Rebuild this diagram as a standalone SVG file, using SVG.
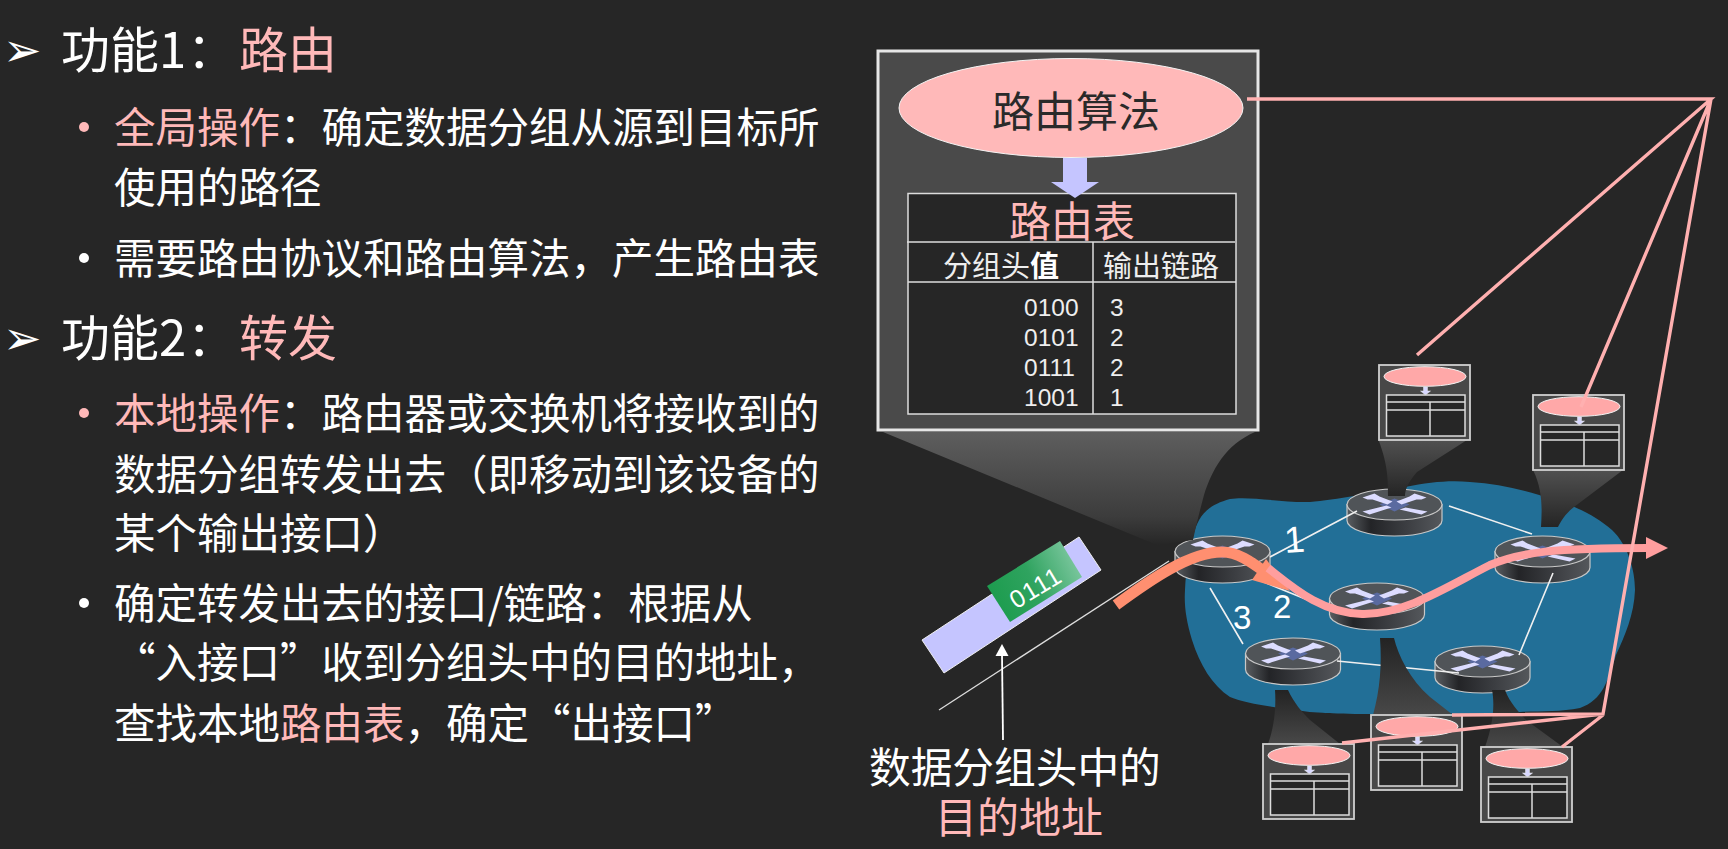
<svg xmlns="http://www.w3.org/2000/svg" xmlns:xlink="http://www.w3.org/1999/xlink" width="1728" height="849" viewBox="0 0 1728 849">
<style>
text{font-family:"Noto Sans CJK SC","Noto Sans",sans-serif;fill:#fff}
.h{font-size:49px}.b{font-size:41.500px}.p{fill:#ffb9b9}
.m{font-family:"DejaVu Sans",sans-serif;font-size:46px}
.t{font-size:42px}.n{font-family:"Liberation Sans",Arial,sans-serif;font-size:24.500px;fill:#eee}
.c{font-size:29px;fill:#eee}.l{font-family:"Liberation Sans",Arial,sans-serif;font-size:33px}
.link{stroke:#f0f0f0;stroke-width:1.600;fill:none}
.pk{stroke:#ffb0b0;stroke-width:3.400;fill:none}
</style>
<defs>
<linearGradient id="body" x1="0" x2="1" y1="0" y2="0"><stop offset="0" stop-color="#5a5e62"/><stop offset=".25" stop-color="#232427"/><stop offset=".6" stop-color="#3a3c40"/><stop offset="1" stop-color="#55585c"/></linearGradient>
<linearGradient id="fd" x1="0" x2="0" y1="0" y2="1"><stop offset="0" stop-color="#505050"/><stop offset="1" stop-color="#252525"/></linearGradient>
<linearGradient id="fu" x1="0" x2="0" y1="0" y2="1"><stop offset="0" stop-color="#232323"/><stop offset="1" stop-color="#484848"/></linearGradient>
<linearGradient id="fm" x1="0" x2="0" y1="0" y2="1"><stop offset="0" stop-color="#5e5e5e"/><stop offset=".75" stop-color="#3c3c3c"/><stop offset="1" stop-color="#262626"/></linearGradient>
<linearGradient id="green" x1="0" x2="1" y1=".6" y2=".2"><stop offset="0" stop-color="#1c9c4e"/><stop offset=".45" stop-color="#2fa35f"/><stop offset="1" stop-color="#85cba6"/></linearGradient>
<g id="router">
<path d="M-47.500 0V16A47.500 15.500 0 0 0 47.500 16V0Z" fill="url(#body)" stroke="#c8c8c8" stroke-width="1.200"/>
<ellipse rx="47.500" ry="15.500" fill="#505458" stroke="#c8c8c8" stroke-width="1.200"/>
<path d="M0-6 15 0 0 7-15 0Z" fill="#5a6aa0"/>
<path d="M-32-7-20-11-15-8-2-3-7 0-22-5-27-5ZM32-7 20-11 15-8 2-3 7 0 22-5 27-5ZM-32 7-8 1-3 3-25 10ZM33 7 11 3 5 5 27 10Z" fill="#dcdcff"/>
</g>
<g id="mini">
<rect width="91" height="75" fill="#484848" stroke="#d0d0d0" stroke-width="1.800"/>
<ellipse cx="46" cy="11.500" rx="41" ry="9.800" fill="#ffa8a8" stroke="#f2f2f2" stroke-width="1"/>
<path d="M44.500 22h4v4h3l-5 4-5-4h3z" fill="#d8d8ff" stroke="#eee" stroke-width=".5"/>
<rect x="7.500" y="30" width="78.500" height="41" fill="#262626" stroke="#ddd" stroke-width="1.500"/>
<path d="M7.500 37H86M7.500 45H86M51 37V71" stroke="#ddd" stroke-width="1.500" fill="none"/>
</g>
</defs>
<rect width="1728" height="849" fill="#262626"/>

<g id="text-panel">
<text class="m" x="3" y="66">➢</text>
<text class="h" x="61" y="68">功能1<tspan x="187">：</tspan><tspan x="239" class="p">路由</tspan></text>
<circle cx="84" cy="127" r="5" fill="#ffb9b9"/>
<text class="b" x="114" y="143"><tspan class="p">全局操作</tspan>：确定数据分组从源到目标所</text>
<text class="b" x="114" y="203">使用的路径</text>
<circle cx="84" cy="258" r="5" fill="#fff"/>
<text class="b" x="114" y="274">需要路由协议和路由算法，产生路由表</text>
<text class="m" x="3" y="354">➢</text>
<text class="h" x="61" y="356">功能2<tspan x="187">：</tspan><tspan x="239" class="p">转发</tspan></text>
<circle cx="84" cy="413" r="5" fill="#ffb9b9"/>
<text class="b" x="114" y="429"><tspan class="p">本地操作</tspan>：路由器或交换机将接收到的</text>
<text class="b" x="114" y="490">数据分组转发出去（即移动到该设备的</text>
<text class="b" x="114" y="549">某个输出接口）</text>
<circle cx="84" cy="603" r="5" fill="#fff"/>
<text class="b" x="114" y="619">确定转发出去的接口/链路：根据从</text>
<text class="b" x="114" y="678">“入接口”收到分组头中的目的地址，</text>
<text class="b" x="114" y="739">查找本地<tspan class="p">路由表</tspan>，确定“出接口”</text>
</g>

<path id="network-cloud" d="M1193 537C1198 515 1208 505 1230 499C1250 496 1285 503 1310 502C1335 500 1375 492 1405 487C1430 482 1450 480 1470 482C1500 484 1525 490 1555 500C1580 508 1597 517 1612 530C1628 545 1635 570 1635 590C1634 615 1625 635 1616 655C1608 680 1603 700 1580 708C1560 712 1540 711 1520 712C1490 714 1430 714 1373 714C1340 714 1310 713 1297 710C1270 707 1245 703 1230 697C1212 685 1200 665 1192 640C1186 620 1184 605 1185 590C1186 570 1188 555 1193 537Z" fill="#226f97"/>

<g id="r1"><use href="#router" x="1222.500" y="551.500"/></g>
<g id="r2"><use href="#router" x="1394.500" y="504.500"/></g>
<g id="r3"><use href="#router" x="1542.500" y="551.500"/></g>
<g id="r4"><use href="#router" x="1377" y="598.500"/></g>
<g id="r5"><use href="#router" x="1293" y="653.500"/></g>
<g id="r6"><use href="#router" x="1482.500" y="661.500"/></g>

<g id="connectors">
<path class="link" d="M1270 557 1357 511M1449 506 1532 534M1254 578 1325 607M1210 588 1243 644M1337 661 1459 673M1553 573 1519 655"/>
<path class="link" style="stroke-width:1.300;stroke:#ddd" d="M939 710 1169 561"/>
<path d="M1003 740 1002 655" stroke="#fff" stroke-width="1.800" fill="none"/>
<path d="M1002 644 995.500 656H1008.500Z" fill="#fff"/>
</g>

<g id="funnels">
<path d="M883 432H1255C1225 445 1212 470 1204 495C1200 510 1196 525 1193 540L1157 545Z" fill="url(#fm)"/>
<path d="M1378.500 440H1467L1417 472C1408 482 1405 490 1405 496H1388C1388 480 1388 465 1378.500 440Z" fill="url(#fd)"/>
<path d="M1533 470H1623L1574 507C1566 513 1561 521 1558 527H1541C1542 510 1543 490 1533 470Z" fill="url(#fd)"/>
<path d="M1380 638H1394C1398 655 1410 680 1430 697L1453 715H1373C1380 690 1382 665 1380 638Z" fill="url(#fu)"/>
<path d="M1275 690H1288C1294 703 1302 712 1310 720L1340 744H1268C1275 725 1276 705 1275 690Z" fill="url(#fu)"/>
<path d="M1492 690H1505C1510 703 1518 711 1526 720L1563 747H1485C1493 725 1495 705 1492 690Z" fill="url(#fu)"/>
</g>

<g id="routing-box">
<rect x="878" y="51" width="380" height="379" fill="#4a4a4a" stroke="#e6e6e6" stroke-width="3"/>
<ellipse cx="1071" cy="108" rx="172" ry="49.500" fill="#ffb9b9" stroke="#f4f4f4" stroke-width="1"/>
<text class="t" x="992" y="127" style="fill:#2a2a2a">路由算法</text>
<rect x="908" y="193.500" width="328" height="220.500" fill="#262626" stroke="#ddd" stroke-width="1.500"/>
<path d="M1063 158H1087V182H1099L1075 198 1051 182H1063Z" fill="#c5c5ff"/>
<text class="t" x="1009" y="237" style="fill:#ffb9b9;font-size:42px">路由表</text>
<path d="M907 242H1235M908 282H1236M1093 242V414" stroke="#ddd" stroke-width="1.500" fill="none"/>
<text class="c" x="943" y="277">分组头<tspan font-weight="700" fill="#fff">值</tspan></text>
<text class="c" x="1103" y="277">输出链路</text>
<text class="n" x="1024" y="316">0100</text><text class="n" x="1110" y="316">3</text>
<text class="n" x="1024" y="346">0101</text><text class="n" x="1110" y="346">2</text>
<text class="n" x="1024" y="376">0111</text><text class="n" x="1110" y="376">2</text>
<text class="n" x="1024" y="406">1001</text><text class="n" x="1110" y="406">1</text>
</g>

<g id="t1"><use href="#mini" x="1379" y="365"/></g>
<g id="t2"><use href="#mini" x="1533" y="395"/></g>
<g id="t3"><use href="#mini" x="1263" y="744"/></g>
<g id="t4"><use href="#mini" x="1371" y="715"/></g>
<g id="t5"><use href="#mini" x="1481" y="747"/></g>

<g id="packet">
<path d="M922 640 1079 537 1101 570 944 673Z" fill="#c5c5ff" stroke="#f0f0f0" stroke-width="1"/>
<path d="M987 586 1060 541 1082 577 1010 622Z" fill="url(#green)"/>
<text transform="translate(1040 595) rotate(-31)" text-anchor="middle" style="font-family:'Liberation Sans',Arial,sans-serif;font-size:25px;letter-spacing:1px">0111</text>
</g>

<g id="paths">
<path d="M1116 605C1150 580 1190 552 1222 552C1240 552 1255 565 1272 577" fill="none" stroke="#ff8f70" stroke-width="11"/>
<path d="M1266 559 1290 591 1252 580Z" fill="#ff8f70"/>
<path d="M1268 568C1290 585 1320 613 1362 614C1405 615 1450 585 1490 565C1520 552 1555 548 1648 548" fill="none" stroke="#ff9e9e" stroke-width="8"/>
<path d="M1646 537 1668 548 1646 559Z" fill="#ff9e9e"/>
</g>

<g id="labels">
<text class="l" transform="translate(1285 553) rotate(-4)" style="font-size:37px">1</text>
<text class="l" x="1273" y="618">2</text>
<text class="l" x="1233" y="629">3</text>
<text class="t" x="869" y="783" style="font-size:41.700px">数据分组头中的</text>
<text class="t p" x="935" y="833">目的地址</text>
</g>

<g id="pink-lines">
<path class="pk" d="M1247 99 1711 99 1417 355M1711 99 1581 407M1711 99 1603 714 1452 715M1603 714 1342 743M1603 715 1562 747"/>
</g>
</svg>
